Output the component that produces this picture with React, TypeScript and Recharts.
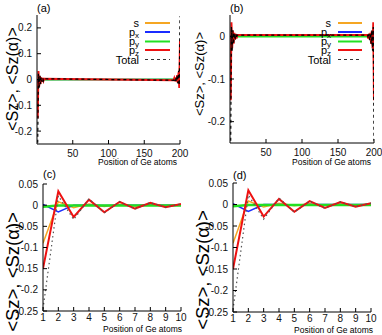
import React from "react";
import { LineChart, Line, XAxis, YAxis } from "recharts";

const FONT = "'Liberation Sans', Arial, Helvetica, sans-serif";

// first and last ten Ge atoms of the 200-atom chain
const atomsHead = [1, 2, 3, 4, 5, 6, 7, 8, 9, 10];
const atomsTail = [191, 192, 193, 194, 195, 196, 197, 198, 199, 200];

// values near atom 1 (same in both chains)
const sHead = [-0.09, 0.008, -0.006, 0.003, -0.003, 0.002, -0.002, 0.001, -0.001, 0.001];
const pxHead = [0.002, -0.016, 0.0, 0.0, -0.001, 0.0, 0.0, 0.0, 0.0, 0.0];
const pyHead = [-0.004, -0.001, -0.001, -0.001, -0.001, -0.001, -0.001, -0.001, -0.001, -0.001];
const pzHead = [-0.15, 0.033, -0.028, 0.013, -0.017, 0.008, -0.008, 0.0055, -0.005, 0.003];
const totalHead = [-0.245, 0.022, -0.034, 0.015, -0.018, 0.008, -0.009, 0.006, -0.005, 0.003];

// (a) values near atom 200
const sTailA = [-0.001, 0.001, -0.001, 0.002, -0.002, 0.003, -0.003, 0.006, -0.008, 0.09];
const pxTailA = [0.0, 0.0, 0.0, 0.0, 0.0, 0.001, 0.0, 0.0, 0.016, -0.002];
const pyTailA = [0.001, 0.001, 0.001, 0.001, 0.001, 0.001, 0.001, 0.001, 0.001, 0.004];
const pzTailA = [-0.003, 0.005, -0.0055, 0.008, -0.008, 0.017, -0.013, 0.028, -0.033, 0.15];
const totalTailA = [-0.003, 0.005, -0.006, 0.009, -0.008, 0.018, -0.015, 0.034, -0.022, 0.245];

// (b) values near atom 200
const sTailB = [0.001, -0.001, 0.001, -0.002, 0.002, -0.003, 0.003, -0.006, 0.008, -0.09];
const pxTailB = [0.0, 0.0, 0.0, 0.0, 0.0, -0.001, 0.0, 0.0, -0.016, 0.002];
const pyTailB = [-0.001, -0.001, -0.001, -0.001, -0.001, -0.001, -0.001, -0.001, -0.001, -0.004];
const pzTailB = [0.003, -0.005, 0.0055, -0.008, 0.008, -0.017, 0.013, -0.028, 0.033, -0.15];
const totalTailB = [0.003, -0.005, 0.006, -0.009, 0.008, -0.018, 0.015, -0.034, 0.022, -0.245];

const xTicksFull = [50, 100, 150, 200];
const xTicksZoom = [1, 2, 3, 4, 5, 6, 7, 8, 9, 10];
const yTicksA = [-0.2, -0.1, 0, 0.1, 0.2];
const yTicksB = [-0.2, -0.1, 0];
const yTicksZoom = [-0.25, -0.2, -0.15, -0.1, -0.05, 0, 0.05];

type Row = { atom: number; s: number; px: number; py: number; pz: number; total: number };

const rows = (
  atoms: number[],
  s: number[],
  px: number[],
  py: number[],
  pz: number[],
  total: number[]
): Row[] =>
  atoms.map((atom, i) => ({ atom, s: s[i], px: px[i], py: py[i], pz: pz[i], total: total[i] }));

const headRows = rows(atomsHead, sHead, pxHead, pyHead, pzHead, totalHead);
const dataA = [...headRows, ...rows(atomsTail, sTailA, pxTailA, pyTailA, pzTailA, totalTailA)];
const dataB = [...headRows, ...rows(atomsTail, sTailB, pxTailB, pyTailB, pzTailB, totalTailB)];

const series = [
  { key: "s", label: "s", sub: "", color: "#f5a623" },
  { key: "px", label: "p", sub: "x", color: "#1a2cff" },
  { key: "py", label: "p", sub: "y", color: "#22e022" },
  { key: "pz", label: "p", sub: "z", color: "#ee1111" },
];
const widthsFull = [1.5, 1.5, 1.5, 2];
const widthsZoom = [1.5, 1.5, 2.5, 2];

type PanelProps = {
  data: Row[];
  left: number;
  top: number;
  width: number;
  height: number;
  margin: { top: number; right: number; bottom: number; left: number };
  xHeight: number;
  xGap: number;
  yWidth: number;
  xDomain: [number, number];
  xTicks: number[];
  yDomain: [number, number];
  yTicks: number[];
  widths: number[];
  totalColor: string;
  totalDash: string;
};

const tickStyle = { fontSize: 10, fill: "#111", fontFamily: FONT };

const Panel = (p: PanelProps) => (
  <div style={{ position: "absolute", left: p.left, top: p.top }}>
    <LineChart width={p.width} height={p.height} data={p.data} margin={p.margin}>
      <XAxis
        xAxisId="b"
        dataKey="atom"
        type="number"
        domain={p.xDomain}
        ticks={p.xTicks}
        interval={0}
        allowDataOverflow
        height={p.xHeight}
        tickSize={-4}
        tickMargin={p.xGap}
        tick={tickStyle}
        stroke="#000"
      />
      <XAxis
        xAxisId="t"
        orientation="top"
        dataKey="atom"
        type="number"
        domain={p.xDomain}
        ticks={p.xTicks}
        interval={0}
        allowDataOverflow
        height={0}
        tickSize={-4}
        tick={false}
        stroke="#000"
      />
      <YAxis
        yAxisId="l"
        type="number"
        domain={p.yDomain}
        ticks={p.yTicks}
        interval={0}
        allowDataOverflow
        width={p.yWidth}
        tickSize={-4}
        tickMargin={9}
        tick={tickStyle}
        tickFormatter={(v: number) => String(v)}
        stroke="#000"
      />
      <YAxis
        yAxisId="r"
        orientation="right"
        type="number"
        domain={p.yDomain}
        ticks={p.yTicks}
        interval={0}
        allowDataOverflow
        width={0}
        tickSize={-4}
        tick={false}
        stroke="#000"
      />
      {series.map((s, i) => (
        <Line
          key={s.key}
          xAxisId="b"
          yAxisId="l"
          type="linear"
          dataKey={s.key}
          stroke={s.color}
          strokeWidth={p.widths[i]}
          dot={false}
          isAnimationActive={false}
        />
      ))}
      <Line
        xAxisId="b"
        yAxisId="l"
        type="linear"
        dataKey="total"
        stroke={p.totalColor}
        strokeWidth={1.2}
        strokeDasharray={p.totalDash}
        dot={false}
        isAnimationActive={false}
      />
    </LineChart>
  </div>
);

const KeyBox = ({ right, x0, x1 }: { right: number; x0: number; x1: number }) => {
  const ys = [23, 32, 41.5, 50, 59.5];
  return (
    <g fontFamily={FONT} fontSize={11} fill="#000">
      {series.map((s, i) => (
        <g key={s.key}>
          <text x={right} y={ys[i] + 3.5} textAnchor="end">
            {s.label}
            {s.sub && (
              <tspan fontSize={8} dy={2}>
                {s.sub}
              </tspan>
            )}
          </text>
          <line x1={x0} x2={x1} y1={ys[i]} y2={ys[i]} stroke={s.color} strokeWidth={2} />
        </g>
      ))}
      <text x={right} y={ys[4] + 4} textAnchor="end">
        Total
      </text>
      <line x1={x0} x2={x1} y1={ys[4]} y2={ys[4]} stroke="#333" strokeWidth={1} strokeDasharray="3 3" />
    </g>
  );
};

const YTitle = ({ x, y, size }: { x: number; y: number; size: number }) => (
  <text
    x={x}
    y={y}
    transform={`rotate(-90 ${x} ${y})`}
    textAnchor="middle"
    dominantBaseline="central"
    fontFamily={FONT}
    fontSize={size}
    fill="#000"
  >
    {"<Sz>, <Sz(α)>"}
  </text>
);

const XTitle = ({ x, y }: { x: number; y: number }) => (
  <text x={x} y={y} textAnchor="end" fontFamily={FONT} fontSize={8.5} fill="#000">
    Position of Ge atoms
  </text>
);

const Tag = ({ x, y, t }: { x: number; y: number; t: string }) => (
  <text x={x} y={y} fontFamily={FONT} fontSize={11} fill="#000">
    {t}
  </text>
);

export default function App() {
  return (
    <div style={{ position: "absolute", left: 0, top: 0, width: 382, height: 335, background: "#fff" }}>
      <Panel
        data={dataA}
        left={0}
        top={0}
        width={191}
        height={168}
        margin={{ top: 15, right: 11, bottom: 0, left: 0 }}
        xHeight={24}
        xGap={9.5}
        yWidth={37}
        xDomain={[0, 200]}
        xTicks={xTicksFull}
        yDomain={[-0.25, 0.25]}
        yTicks={yTicksA}
        widths={widthsFull}
        totalColor="#000"
        totalDash="3 3"
      />
      <Panel
        data={dataB}
        left={191}
        top={0}
        width={191}
        height={168}
        margin={{ top: 15, right: 8, bottom: 0, left: 0 }}
        xHeight={25}
        xGap={9.5}
        yWidth={39}
        xDomain={[0, 200]}
        xTicks={xTicksFull}
        yDomain={[-0.25, 0.05]}
        yTicks={yTicksB}
        widths={widthsFull}
        totalColor="#000"
        totalDash="3 3"
      />
      <Panel
        data={headRows}
        left={0}
        top={165}
        width={191}
        height={170}
        margin={{ top: 19, right: 10, bottom: 0, left: 0 }}
        xHeight={24}
        xGap={6.5}
        yWidth={43}
        xDomain={[1, 10]}
        xTicks={xTicksZoom}
        yDomain={[-0.25, 0.05]}
        yTicks={yTicksZoom}
        widths={widthsZoom}
        totalColor="#555"
        totalDash="1.5 3"
      />
      <Panel
        data={headRows}
        left={191}
        top={165}
        width={191}
        height={170}
        margin={{ top: 18, right: 11, bottom: 0, left: 0 }}
        xHeight={23}
        xGap={6.5}
        yWidth={42}
        xDomain={[1, 10]}
        xTicks={xTicksZoom}
        yDomain={[-0.25, 0.05]}
        yTicks={yTicksZoom}
        widths={widthsZoom}
        totalColor="#555"
        totalDash="1.5 3"
      />
      <svg
        width={382}
        height={335}
        style={{ position: "absolute", left: 0, top: 0, pointerEvents: "none" }}
      >
        <Tag x={37} y={12} t="(a)" />
        <Tag x={230} y={12} t="(b)" />
        <Tag x={43} y={178} t="(c)" />
        <Tag x={233} y={179} t="(d)" />
        <YTitle x={12} y={79} size={16} />
        <YTitle x={199} y={74} size={13} />
        <YTitle x={12} y={272} size={18.5} />
        <YTitle x={202} y={270} size={18.5} />
        <XTitle x={177} y={165} />
        <XTitle x={371} y={165} />
        <XTitle x={182} y={332} />
        <XTitle x={373} y={333} />
        <KeyBox right={139} x0={145} x1={170} />
        <KeyBox right={331} x0={338} x1={362} />
      </svg>
    </div>
  );
}
